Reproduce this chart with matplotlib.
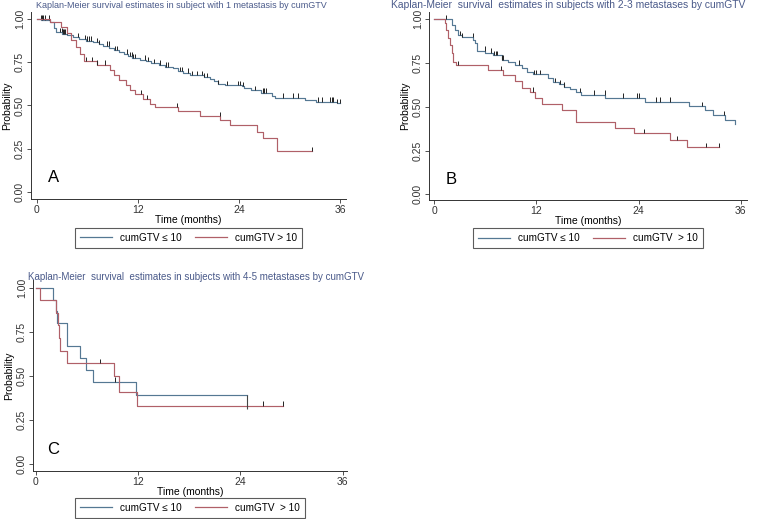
import numpy as np
import matplotlib
matplotlib.use('Agg')
import matplotlib.pyplot as plt
from matplotlib.lines import Line2D

plt.rcParams['font.family'] = ['Liberation Sans', 'DejaVu Sans']

# Panel A: 1 metastasis
a_low_t = [0, 0.5, 1.6, 2.0, 2.3, 3.0, 3.6, 4.3, 5.0, 5.8, 6.6, 7.4, 7.9, 8.6, 9.1, 9.8, 10.3, 10.8, 11.3,
           12.2, 13.0, 13.6, 14.5, 15.2, 16.1, 16.8, 17.4, 18.2, 19.8, 20.6, 21.0, 21.5, 22.3, 24.3, 24.6,
           25.4, 26.6, 27.9, 28.3, 31.8, 33.2, 35.6]
a_low_s = [1.0, 0.995, 0.985, 0.95, 0.925, 0.915, 0.905, 0.895, 0.885, 0.875, 0.865, 0.855, 0.845, 0.83,
           0.82, 0.81, 0.80, 0.785, 0.775, 0.765, 0.755, 0.745, 0.735, 0.725, 0.715, 0.70, 0.69, 0.675,
           0.665, 0.655, 0.64, 0.625, 0.618, 0.61, 0.60, 0.59, 0.575, 0.555, 0.545, 0.533, 0.522, 0.515]
a_low_end = 36.0
a_low_cens = [0.44, 0.55, 0.95, 1.47, 2.73, 2.93, 3.13, 3.25, 3.37, 3.52, 4.91, 5.70, 5.98, 6.22, 6.38,
              7.09, 7.41, 8.28, 8.55, 9.27, 9.47, 10.73, 11.05, 11.25, 11.45, 11.64, 12.83, 13.23, 13.90,
              14.61, 15.33, 15.52, 16.99, 17.19, 17.98, 18.38, 18.97, 19.56, 19.84, 20.16, 21.54, 22.53,
              23.92, 24.12, 24.51, 25.90, 26.89, 27.01, 27.21, 29.27, 30.46, 30.97, 33.43, 33.82, 34.81,
              35.01, 35.21, 35.6, 36.0]
a_high_t = [0, 1.5, 2.9, 3.6, 4.0, 4.6, 5.1, 5.6, 7.1, 8.7, 9.1, 9.7, 10.6, 11.0, 11.6, 12.6, 13.4, 14.0,
            16.8, 19.4, 21.8, 22.9, 26.1, 26.8, 28.5]
a_high_s = [1.0, 0.985, 0.955, 0.92, 0.88, 0.84, 0.80, 0.755, 0.735, 0.705, 0.675, 0.648, 0.618, 0.59,
            0.565, 0.535, 0.51, 0.49, 0.47, 0.44, 0.416, 0.387, 0.345, 0.314, 0.237]
a_high_end = 32.7
a_high_cens = [0.75, 5.82, 6.5, 7.17, 8.08, 12.36, 13.03, 16.59, 21.74, 32.7]

# Panel B: 2-3 metastases
b_low_t = [0, 2.04, 2.43, 2.82, 3.2, 4.6, 4.8, 5.0, 6.0, 6.9, 7.9, 8.7, 9.5, 10.3, 10.9, 11.6, 13.4, 14.0,
           14.6, 15.2, 15.9, 16.7, 17.2, 20.06, 24.76, 29.97, 31.8, 32.7, 34.1, 35.3]
b_low_s = [1.0, 0.967, 0.94, 0.91, 0.897, 0.882, 0.863, 0.82, 0.81, 0.795, 0.77, 0.758, 0.74, 0.72, 0.70,
           0.685, 0.662, 0.64, 0.63, 0.615, 0.60, 0.585, 0.57, 0.552, 0.53, 0.505, 0.482, 0.453, 0.425, 0.40]
b_low_end = 35.3
b_low_cens = [1.37, 3.0, 3.3, 4.5, 5.95, 6.7, 7.0, 7.25, 7.4, 8.0, 8.1, 9.9, 11.75, 11.9, 12.4, 14.2, 14.8,
              15.2, 17.1, 18.8, 20.05, 22.2, 23.8, 24.1, 26.1, 26.5, 27.7, 31.4, 34.0]
b_high_t = [0, 1.26, 1.38, 1.65, 1.84, 2.04, 2.2, 2.5, 6.35, 8.1, 9.5, 10.3, 11.2, 11.8, 12.6, 15.0, 16.7,
            21.2, 23.5, 27.7, 29.7]
b_high_s = [1.0, 0.977, 0.939, 0.891, 0.853, 0.806, 0.758, 0.739, 0.71, 0.682, 0.648, 0.606, 0.586, 0.549,
            0.514, 0.482, 0.415, 0.38, 0.349, 0.31, 0.269]
b_high_end = 33.5
b_high_cens = [2.8, 7.8, 11.6, 24.6, 28.5, 31.9, 33.5]

# Panel C: 4-5 metastases
c_low_t = [0, 2.03, 2.3, 2.45, 3.6, 5.17, 5.87, 6.74, 11.75]
c_low_s = [1.0, 0.933, 0.867, 0.80, 0.667, 0.60, 0.533, 0.467, 0.39]
c_low_end = 24.75
c_low_cens = [9.3]
c_high_t = [0, 0.47, 2.4, 2.55, 2.7, 2.8, 3.6, 9.2, 9.7, 11.8]
c_high_s = [1.0, 0.929, 0.857, 0.786, 0.714, 0.643, 0.571, 0.50, 0.41, 0.33]
c_high_end = 29.0
c_high_cens = [7.5, 26.7, 29.0]

titles = ['Kaplan-Meier survival estimates in subject with 1 metastasis by cumGTV',
          'Kaplan-Meier  survival  estimates in subjects with 2-3 metastases by cumGTV',
          'Kaplan-Meier  survival  estimates in subjects with 4-5 metastases by cumGTV']
letters = ['A', 'B', 'C']
legend_labels = [['cumGTV \u2264 10', 'cumGTV > 10'],
                 ['cumGTV \u2264 10', 'cumGTV  > 10'],
                 ['cumGTV \u2264 10', 'cumGTV  > 10']]

blue = '#557893'
red = '#b06068'
title_col = '#4a5a8a'

W, H = 765, 519
fig = plt.figure(figsize=(W / 100, H / 100), dpi=100)


def px_axes(x0, y0, x1, y1):
    return fig.add_axes([x0 / W, 1 - y1 / H, (x1 - x0) / W, (y1 - y0) / H])


def km_draw(ax, t, s, t_end, cens, color):
    xs = list(t) + [t_end]
    ys = list(s) + [s[-1]]
    ax.step(xs, ys, where='post', color=color, lw=0.85)
    idx = np.searchsorted(t, cens, side='right') - 1
    cy = np.array(s)[idx]
    ax.vlines(cens, cy, cy + 0.025, color='#222222', lw=0.7)


def style(ax, letter, labels, xlim, ylim, leg_y):
    ax.set_xlim(*xlim)
    ax.set_ylim(*ylim)
    ax.spines['top'].set_visible(False)
    ax.spines['right'].set_visible(False)
    for sp in ['left', 'bottom']:
        ax.spines[sp].set_linewidth(0.7)
        ax.spines[sp].set_color('#333333')
    ax.set_xticks([0, 12, 24, 36])
    ax.set_yticks([0, 0.25, 0.5, 0.75, 1.0])
    ax.set_yticklabels(['0.00', '0.25', '0.50', '0.75', '1.00'], rotation=90, va='center')
    ax.tick_params(labelsize=7.5, length=3, width=0.6, pad=1.5, colors='#333333')
    ax.set_xlabel('Time (months)', fontsize=7.5, labelpad=0)
    ax.set_ylabel('Probability', fontsize=7.5, labelpad=2)
    ax.text(1.3, 0.04, letter, fontsize=12, ha='left', va='bottom')
    handles = [Line2D([], [], color=blue, lw=0.9), Line2D([], [], color=red, lw=0.9)]
    leg = ax.legend(handles, labels, loc='upper center', bbox_to_anchor=(0.5, leg_y), ncol=2,
                    fontsize=7.2, frameon=True, fancybox=False, edgecolor='#333333', handlelength=3.2,
                    columnspacing=1.4, borderpad=0.5, handletextpad=0.8, borderaxespad=0)
    leg.get_frame().set_linewidth(0.8)


axA = px_axes(31, 12, 346, 199)
km_draw(axA, a_low_t, a_low_s, a_low_end, a_low_cens, blue)
km_draw(axA, a_high_t, a_high_s, a_high_end, a_high_cens, red)
style(axA, letters[0], legend_labels[0], (-0.71, 36.71), (-0.04, 1.04), -0.155)

axB = px_axes(429, 12, 747, 200)
km_draw(axB, b_low_t, b_low_s, b_low_end, b_low_cens, blue)
km_draw(axB, b_high_t, b_high_s, b_high_end, b_high_cens, red)
style(axB, letters[1], legend_labels[1], (-0.62, 36.74), (-0.033, 1.042), -0.149)

axC = px_axes(33, 280, 347, 471)
km_draw(axC, c_low_t, c_low_s, c_low_end, c_low_cens, blue)
km_draw(axC, c_high_t, c_high_s, c_high_end, c_high_cens, red)
axC.vlines([c_low_end], 0.31, c_low_s[-1], color='#444444', lw=0.8)
style(axC, letters[2], legend_labels[2], (-0.35, 36.5), (-0.04, 1.044), -0.141)

fig.text(36 / W, 1 - 5 / H, titles[0], fontsize=6.45, color=title_col, va='center', ha='left')
fig.text(391 / W, 1 - 5 / H, titles[1], fontsize=7.4, color=title_col, va='center', ha='left')
fig.text(28 / W, 1 - 277 / H, titles[2], fontsize=7.0, color=title_col, va='center', ha='left')

fig.savefig('out.png', dpi=100, facecolor='white')
